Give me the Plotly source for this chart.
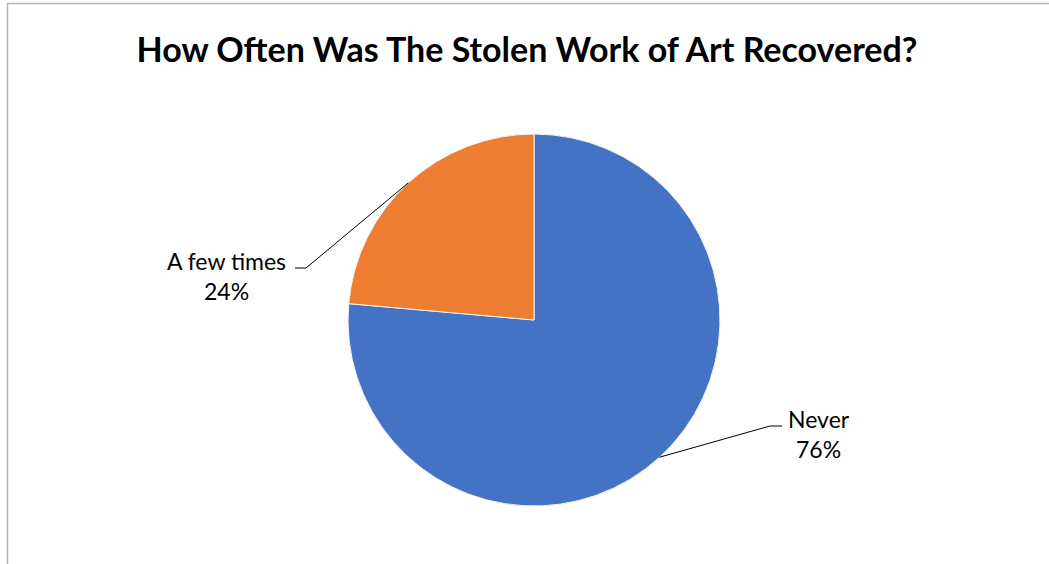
import math
import plotly.graph_objects as go

# ---- data ----
categories = ["Never", "A few times"]
values = [76.4, 23.6]
colors = ["#4472C4", "#ED7D31"]
title_text = "How Often Was The Stolen Work of Art Recovered?"

W, H = 1049, 564
cx, cy, R = 534, 320, 186  # pie centre / radius in pixels

def px_to_paper(x, y):
    return x / W, 1 - y / H

fig = go.Figure()
fig.add_trace(go.Pie(
    labels=categories,
    values=values,
    sort=False,
    direction="clockwise",
    rotation=0,
    marker=dict(colors=colors, line=dict(color="#f2f2f2", width=1)),
    textinfo="none",
    hoverinfo="label+percent",
    showlegend=False,
    domain=dict(x=[(cx - R) / W, (cx + R) / W], y=[1 - (cy + R) / H, 1 - (cy - R) / H]),
))

# label layout (leader elbows relative to centre, text anchors)
label_layout = {
    "Never": dict(elbow=(236, 106), end_dx=12, text=(819, 434)),
    "A few times": dict(elbow=(-228, -52), end_dx=-11, text=(226, 276)),
}

shapes = []
annotations = []
total = sum(values)
cum = 0
for cat, v in zip(categories, values):
    mid = (cum + v / 2) / total * 2 * math.pi  # clockwise from top
    cum += v
    sx = cx + R * math.sin(mid)
    sy = cy - R * math.cos(mid)
    lay = label_layout[cat]
    ex, ey = cx + lay["elbow"][0], cy + lay["elbow"][1]
    fx = ex + lay["end_dx"]
    pts = [(sx, sy), (ex, ey), (fx, ey)]
    path = "M " + " L ".join(f"{px_to_paper(x, y)[0]},{px_to_paper(x, y)[1]}" for x, y in pts)
    shapes.append(dict(type="path", xref="paper", yref="paper", path=path,
                       line=dict(color="black", width=1)))
    tx, ty = px_to_paper(*lay["text"])
    pct = round(v / total * 100)
    annotations.append(dict(xref="paper", yref="paper", x=tx, y=ty, xanchor="center", yanchor="middle",
                            text=f"{cat}<br>{pct}%", showarrow=False, align="center",
                            font=dict(family="Lato, Liberation Sans, sans-serif", size=23, color="#000000")))

# chart-area border
shapes.append(dict(type="rect", xref="paper", yref="paper",
                   x0=7.5 / W, x1=1.05, y0=-0.05, y1=1 - 3.5 / H,
                   line=dict(color="#b3b3b3", width=1.5), fillcolor="rgba(0,0,0,0)", layer="below"))

fig.update_layout(
    width=W, height=H,
    margin=dict(l=0, r=0, t=0, b=0),
    paper_bgcolor="white",
    plot_bgcolor="white",
    title=dict(text=f"<b>{title_text}</b>", x=527 / W, xanchor="center", y=1 - 50 / H, yanchor="middle",
               font=dict(family="Lato, Liberation Sans, sans-serif", size=34, color="black")),
    shapes=shapes,
    annotations=annotations,
)

fig.write_html("out.html")
